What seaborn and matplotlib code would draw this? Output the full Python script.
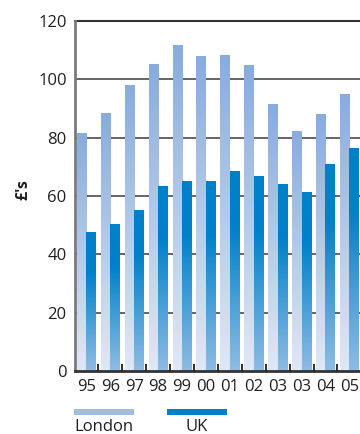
import numpy as np
import pandas as pd
import matplotlib
matplotlib.use("Agg")
import matplotlib.pyplot as plt
import seaborn as sns
from matplotlib.colors import LinearSegmentedColormap
from matplotlib.patches import Rectangle

# Average weekly household spending, London vs UK
years = ["95", "96", "97", "98", "99", "00", "01", "02", "03", "03", "04", "05"]
london = [81.6, 88.4, 98.0, 105.2, 111.8, 108.0, 108.3, 104.9, 91.5, 82.3, 88.1, 95.0]
uk = [47.6, 50.4, 55.2, 63.4, 65.1, 65.1, 68.6, 66.9, 64.1, 61.4, 71.0, 76.4]
series_names = ["London", "UK"]
y_ticks = [0, 20, 40, 60, 80, 100, 120]

sns.set_theme(style="white")
plt.rcParams["font.family"] = ["Open Sans", "DejaVu Sans"]
text_color = "#231f20"

n = len(years)
df = pd.DataFrame({
    "idx": list(range(n)) * 2,
    "value": london + uk,
    "series": [series_names[0]] * n + [series_names[1]] * n,
})

flat = {"London": "#a3bbdc", "UK": "#0080c8"}
cmaps = {
    "London": LinearSegmentedColormap.from_list(
        "lon", [(0.0, "#e0e8f6"), (1.0, "#88acdb")]),
    "UK": LinearSegmentedColormap.from_list(
        "uk", [(0.0, "#8fbce4"), (0.72, "#0080c8"), (1.0, "#0080c8")]),
}

fig = plt.figure(figsize=(3.6, 4.34), dpi=100)
ax = fig.add_axes([75 / 360, 1 - 371 / 434, 285 / 360, 350 / 434])

sns.barplot(data=df, x="idx", y="value", hue="series", hue_order=series_names,
            palette=flat, width=0.8, dodge=True, legend=False, ax=ax,
            linewidth=0, zorder=3)

# replace the flat fills with vertical gradients clipped to each bar
grad = np.linspace(0, 1, 256).reshape(-1, 1)
bars = list(ax.patches)
for k, bar in enumerate(bars):
    name = series_names[0] if k < n else series_names[1]
    x0, y0 = bar.get_x(), bar.get_y()
    w, h = bar.get_width(), bar.get_height()
    bar.set_facecolor("none")
    im = ax.imshow(grad, cmap=cmaps[name], origin="lower", aspect="auto",
                   extent=[x0, x0 + w, y0, y0 + h], zorder=3,
                   interpolation="bilinear")
    im.set_clip_path(bar)

ax.set_xlim(-0.48, -0.48 + 285 / 23.9)
ax.set_ylim(0, 120)
ax.set_yticks(y_ticks)
ax.set_yticklabels([str(v) for v in y_ticks])
ax.set_xticks(range(n))
ax.set_xticklabels(years)

# short upward marks separating the year groups
ax.vlines(np.arange(0.5, n - 0.5, 1.0), 0, 0.021,
          transform=ax.get_xaxis_transform(), colors="#231f20",
          linewidth=1.3, zorder=6, clip_on=False)

ax.yaxis.grid(True, color="#4a4a4a", linewidth=1.2)
ax.xaxis.grid(False)
ax.set_axisbelow(True)

ax.tick_params(axis="y", length=0, pad=6, labelsize=12, labelcolor=text_color)
ax.tick_params(axis="x", length=0, pad=6, labelsize=12, labelcolor=text_color)

ax.spines["right"].set_visible(False)
ax.spines["top"].set_color("#333333")
ax.spines["top"].set_linewidth(1.5)
ax.spines["left"].set_color("#7a7a7a")
ax.spines["left"].set_linewidth(2)
ax.spines["bottom"].set_color("#333333")
ax.spines["bottom"].set_linewidth(2)
ax.spines["left"].set_zorder(5)
ax.spines["bottom"].set_zorder(5)

ax.set_xlabel("")
ax.set_ylabel("")
fig.text(23 / 360, 1 - 190 / 434, "£'s", rotation=90, ha="center", va="center",
         fontsize=11.5, fontweight="bold", color=text_color)

# legend: coloured strips with names underneath
leg = [(74, series_names[0], flat["London"], "left", 74),
       (167, series_names[1], flat["UK"], "center", 197)]
for px, name, col, ha, tx in leg:
    fig.add_artist(Rectangle((px / 360, 1 - 415 / 434), 60 / 360, 6 / 434,
                             transform=fig.transFigure, color=col, lw=0))
    fig.text(tx / 360, 1 - 427 / 434, name, ha=ha, va="center", fontsize=12,
             color=text_color)

fig.savefig("out.png", dpi=100)
